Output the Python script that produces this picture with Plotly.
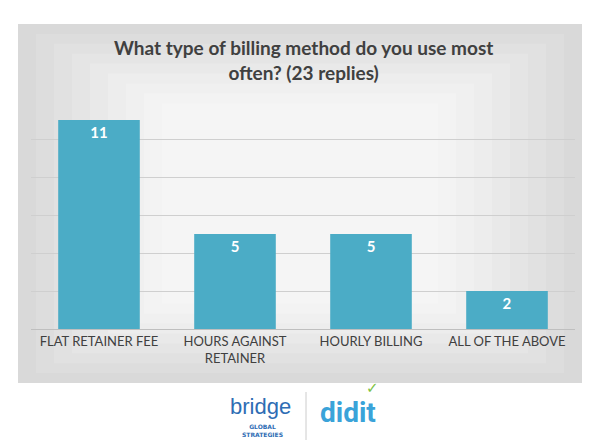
import plotly.graph_objects as go

categories = ['FLAT RETAINER FEE', 'HOURS AGAINST<br>RETAINER', 'HOURLY BILLING', 'ALL OF THE ABOVE']
replies = [11, 5, 5, 2]

fig = go.Figure(go.Bar(
    x=categories, y=replies, width=0.6,
    marker=dict(color='#4bacc6', line=dict(width=0)),
    text=['<b>%d</b>' % v for v in replies], textposition='inside', insidetextanchor='end',
    textfont=dict(family='Lato', size=15, color='white'),
))

W, H = 544, 228
shapes = []
# grey panel, fading toward white in the middle
layers = ['#d9d9d9', '#dddddd', '#e1e1e1', '#e5e5e5', '#e9e9e9', '#ededed', '#f0f0f0', '#f3f3f3', '#f5f5f5']
for i, col in enumerate(layers):
    inset = i * 18
    shapes.append(dict(type='rect', xref='paper', yref='paper', layer='below', line=dict(width=0),
                       fillcolor=col,
                       x0=(-13 + inset) / W, x1=(551 - inset) / W,
                       y0=(-54 + inset * 0.55) / H, y1=(305 - inset * 0.55) / H))
shapes.append(dict(type='line', xref='paper', yref='paper', x0=(306 - 31) / W, x1=(306 - 31) / W,
                   y0=-63 / H, y1=-111 / H, line=dict(color='#cccccc', width=1)))

fig.update_layout(
    width=600, height=447,
    margin=dict(l=23, r=33, t=93, b=126),
    paper_bgcolor='white', plot_bgcolor='rgba(0,0,0,0)',
    showlegend=False, shapes=shapes,
    xaxis=dict(showgrid=False, showline=True, linecolor='#bfbfbf',
               tickfont=dict(family='Lato', size=13, color='#404040')),
    yaxis=dict(range=[0, 12], dtick=2, showticklabels=False, gridcolor='#cfcfcf',
               zeroline=False),
    annotations=[
        dict(text='<b>What type of billing method do you use most<br>often? (23 replies)</b>',
             xref='paper', yref='paper', x=0.5, y=(H + 67) / H, showarrow=False,
             font=dict(family='Lato', size=19, color='#404040')),
        dict(text='bridge', xref='paper', yref='paper', x=(260 - 31) / W, y=-92 / H,
             showarrow=False, font=dict(family='Liberation Sans', size=22, color='#2e6db4')),
        dict(text='<b>GLOBAL<br>STRATEGIES</b>', xref='paper', yref='paper', x=(262 - 31) / W,
             y=-111 / H, showarrow=False,
             font=dict(family='DejaVu Sans', size=6, color='#2e6db4')),
        dict(text='<b>didit</b>', xref='paper', yref='paper', x=(348 - 31) / W, y=-102 / H,
             showarrow=False, font=dict(family='Roboto', size=28, color='#3aa3d9')),
        dict(text='<b>✓</b>', xref='paper', yref='paper', x=(372 - 31) / W, y=-70 / H,
             showarrow=False, font=dict(family='DejaVu Sans', size=15, color='#7cc242')),
    ],
)

fig.write_html('out.html')
